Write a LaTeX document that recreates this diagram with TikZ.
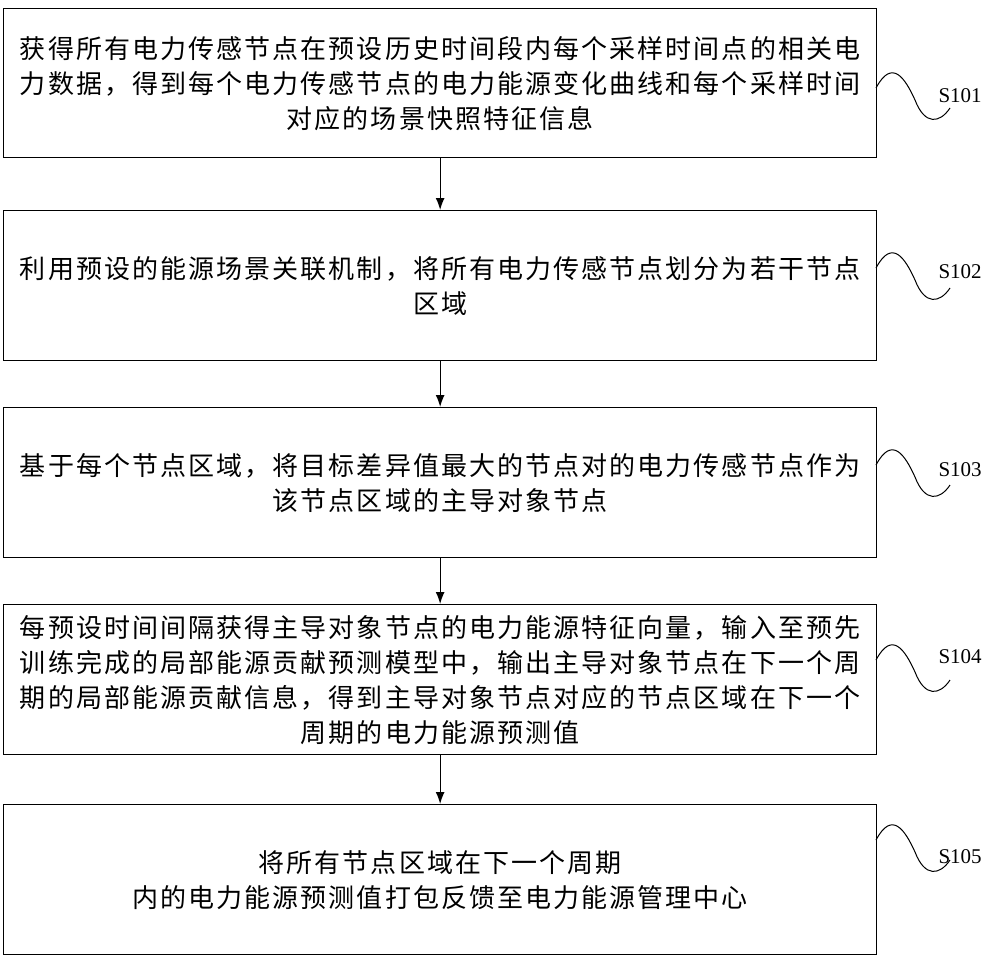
\documentclass[tikz,border=0pt]{standalone}
\usepackage{fontspec}
\newfontfamily\cjk[LetterSpace=8]{Noto Sans CJK SC}
\setmainfont{Liberation Serif}
\XeTeXlinebreaklocale "zh"
\begin{document}
\begin{tikzpicture}[x=1pt,y=-1pt,
  stepbox/.style={draw,line width=1.3pt,minimum width=873pt,anchor=north west,inner sep=0pt,align=center,font=\cjk\fontsize{26}{35}\selectfont},
  arr/.style={-{Latex[length=12pt,width=9pt]},line width=1.3pt},
  wave/.style={line width=1pt},
  lab/.style={font=\fontsize{21}{24}\selectfont}]
\usetikzlibrary{arrows.meta}
\useasboundingbox (0,0) rectangle (1000,962);
\node[stepbox,minimum height=149pt] (b1) at (3,8) {获得所有电力传感节点在预设历史时间段内每个采样时间点的相关电\\力数据，得到每个电力传感节点的电力能源变化曲线和每个采样时间\\对应的场景快照特征信息};
\node[stepbox,minimum height=150pt] (b2) at (3,210) {利用预设的能源场景关联机制，将所有电力传感节点划分为若干节点\\区域};
\node[stepbox,minimum height=150pt] (b3) at (3,407) {基于每个节点区域，将目标差异值最大的节点对的电力传感节点作为\\该节点区域的主导对象节点};
\node[stepbox,minimum height=150pt] (b4) at (3,604) {每预设时间间隔获得主导对象节点的电力能源特征向量，输入至预先\\训练完成的局部能源贡献预测模型中，输出主导对象节点在下一个周\\期的局部能源贡献信息，得到主导对象节点对应的节点区域在下一个\\周期的电力能源预测值};
\node[stepbox,minimum height=150pt] (b5) at (3,804) {将所有节点区域在下一个周期\\内的电力能源预测值打包反馈至电力能源管理中心};
\draw[arr] (b1.south) -- (b2.north);
\draw[arr] (b2.south) -- (b3.north);
\draw[arr] (b3.south) -- (b4.north);
\draw[arr] (b4.south) -- (b5.north);
\foreach \b/\yy/\ly/\t in {b1/88/96/S101, b2/268/272/S102, b3/465/470/S103, b4/660/657/S104, b5/840/857/S105}{
  \draw[wave] (876,\yy) .. controls (892,\yy-30) and (905,\yy-10) .. (915,\yy+12) .. controls (925,\yy+38) and (940,\yy+35) .. (950,\yy+20);
  \node[lab,anchor=west] (l\b) at (935,\ly) {\t};
}
\end{tikzpicture}
\end{document}
